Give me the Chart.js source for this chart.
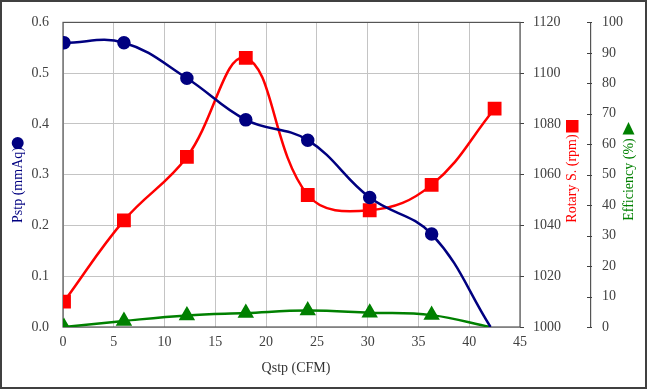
<!DOCTYPE html>
<html>
<head>
<meta charset="utf-8">
<script src="https://cdn.jsdelivr.net/npm/chart.js@4.4.1/dist/chart.umd.min.js"></script>
<style>
  html, body { margin: 0; padding: 0; background: #fff; }
  canvas { display: block; }
</style>
</head>
<body>
<canvas id="chart" width="647" height="390"></canvas>
<script>
// values
const qstp = [0.1, 6.0, 12.2, 18.0, 24.1, 30.2, 36.3, 42.1];
const qstpRpm = [0.1, 6.0, 12.2, 18.0, 24.1, 30.2, 36.3, 42.5];
const pstp = [0.56, 0.56, 0.49, 0.408, 0.368, 0.255, 0.183, 0];
const rpm = [1010, 1042, 1067, 1106, 1052, 1046, 1056, 1086];
const efficiency = [0, 2.0, 3.8, 4.6, 5.4, 4.7, 3.9, 0];

const navy = "#000080";
const red = "#FF0000";
const green = "#008000";
const axisGrey = "#404040";
const serif = '"Liberation Serif", "Times New Roman", serif';

Chart.defaults.font.family = serif;
Chart.defaults.font.size = 14;
Chart.defaults.color = axisGrey;

function toPoints(xs, ys) {
    return xs.map((x, i) => ({ x: x, y: ys[i] }));
}

// titles, frame and the little extra ticks
const decorations = {
    id: 'decorations',
    beforeDraw(chart) {
        const ctx = chart.ctx;
        ctx.save();
        ctx.fillStyle = '#fff';
        ctx.fillRect(0, 0, chart.width, chart.height);
        ctx.restore();
    },
    beforeDatasetsDraw(chart) {
        const ctx = chart.ctx;
        const a = chart.chartArea;
        ctx.save();
        ctx.strokeStyle = '#555';
        ctx.lineWidth = 1.2;
        ctx.strokeRect(a.left, a.top, a.right - a.left, a.bottom - a.top);

        // efficiency axis ticks pointing left
        const s = chart.scales.y2;
        ctx.lineWidth = 1;
        ctx.strokeStyle = axisGrey;
        s.ticks.forEach(t => {
            const y = Math.round(s.getPixelForValue(t.value)) + 0.5;
            ctx.beginPath();
            ctx.moveTo(s.left - 4, y);
            ctx.lineTo(s.left + 1, y);
            ctx.stroke();
        });
        ctx.restore();
    },
    afterDraw(chart) {
        const ctx = chart.ctx;
        ctx.save();
        ctx.font = '14px ' + serif;
        ctx.textAlign = 'center';
        ctx.textBaseline = 'middle';

        const vertical = (text, x, y, color) => {
            ctx.save();
            ctx.translate(x, y);
            ctx.rotate(-Math.PI / 2);
            ctx.fillStyle = color;
            ctx.fillText(text, 0, 0);
            ctx.restore();
        };
        vertical('Pstp (mmAq)', 18.5, 185, navy);
        vertical('Rotary S. (rpm)', 572.5, 178.5, red);
        vertical('Efficiency (%)', 629.5, 179.5, green);

        ctx.fillStyle = navy;
        ctx.beginPath();
        ctx.arc(17.7, 143, 6, 0, Math.PI * 2);
        ctx.fill();

        ctx.fillStyle = red;
        ctx.fillRect(566, 120, 12.5, 12.5);

        ctx.fillStyle = green;
        ctx.beginPath();
        ctx.moveTo(628.5, 122);
        ctx.lineTo(622.5, 134.5);
        ctx.lineTo(634.5, 134.5);
        ctx.closePath();
        ctx.fill();

        ctx.fillStyle = '#333';
        ctx.fillText('Qstp (CFM)', 296, 368);

        ctx.strokeStyle = axisGrey;
        ctx.lineWidth = 2;
        ctx.strokeRect(1, 1, 645, 387);
        ctx.restore();
    }
};

const ctx = document.getElementById('chart').getContext('2d');
new Chart(ctx, {
    type: 'line',
    data: {
        datasets: [
            {
                label: 'Pstp',
                data: toPoints(qstp, pstp),
                yAxisID: 'y',
                borderColor: navy,
                backgroundColor: navy,
                borderWidth: 2.5,
                tension: 0.4,
                pointStyle: 'circle',
                pointRadius: pstp.map((v, i) => i === pstp.length - 1 ? 0 : 5.5),
                order: 0
            },
            {
                label: 'Rotary S.',
                data: toPoints(qstpRpm, rpm),
                yAxisID: 'y1',
                borderColor: red,
                backgroundColor: red,
                borderWidth: 2.5,
                tension: 0.4,
                pointStyle: 'rect',
                pointRadius: 8,
                order: 1
            },
            {
                label: 'Efficiency',
                data: toPoints(qstp, efficiency),
                yAxisID: 'y2',
                borderColor: green,
                backgroundColor: green,
                borderWidth: 2.5,
                tension: 0.4,
                pointStyle: 'triangle',
                pointRadius: efficiency.map((v, i) => i === efficiency.length - 1 ? 0 : 7),
                order: 2
            }
        ]
    },
    options: {
        responsive: false,
        animation: false,
        devicePixelRatio: 1,
        layout: { padding: { top: 19, left: 0, right: 0, bottom: 0 } },
        plugins: {
            legend: { display: false },
            tooltip: { enabled: false }
        },
        scales: {
            x: {
                type: 'linear',
                min: 0,
                max: 45,
                ticks: { stepSize: 5, padding: 7, color: axisGrey },
                grid: { color: '#c4c4c4', drawTicks: false },
                border: { display: false },
                afterFit: s => { s.height = 63; }
            },
            y: {
                position: 'left',
                min: 0,
                max: 0.6,
                ticks: {
                    stepSize: 0.1,
                    padding: 14,
                    color: axisGrey,
                    callback: v => v.toFixed(1)
                },
                grid: { color: '#c4c4c4', drawTicks: false },
                border: { display: false },
                afterFit: s => { s.width = 63; }
            },
            y1: {
                position: 'right',
                weight: 1,
                min: 1000,
                max: 1120,
                ticks: { stepSize: 20, padding: 9, color: axisGrey, callback: v => String(v) },
                grid: { drawOnChartArea: false, drawTicks: true, tickLength: 4, color: axisGrey },
                border: { display: false },
                afterFit: s => { s.width = 71; }
            },
            y2: {
                position: 'right',
                weight: 2,
                min: 0,
                max: 100,
                ticks: { stepSize: 10, padding: 11, color: axisGrey, callback: v => String(v) },
                grid: { drawOnChartArea: false, drawTicks: false },
                border: { display: true, color: '#555', width: 1.2 },
                afterFit: s => { s.width = 56; }
            }
        }
    },
    plugins: [decorations]
});
</script>
</body>
</html>
